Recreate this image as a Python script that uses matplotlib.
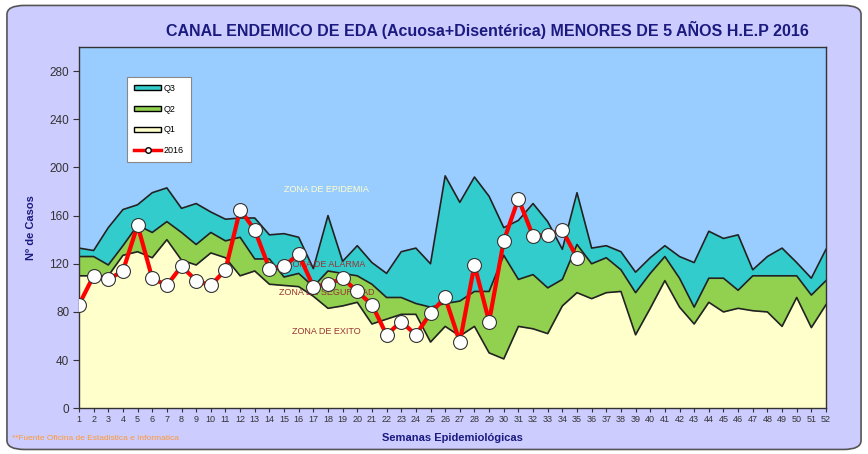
import numpy as np
import matplotlib.pyplot as plt
from matplotlib.patches import Patch, FancyBboxPatch
from matplotlib.lines import Line2D

plt.rcParams['font.family'] = ['Liberation Sans', 'DejaVu Sans']

weeks = list(range(1, 53))

q3 = [133, 131, 150, 165, 169, 179, 183, 166, 170, 163, 157, 158, 158, 144, 145, 142, 116, 160,
      122, 135, 121, 112, 130, 133, 120, 193, 171, 192, 176, 150, 156, 170, 155, 132, 179, 133,
      135, 130, 113, 125, 135, 126, 121, 147, 141, 144, 115, 126, 133, 121, 108, 132]
q2 = [126, 126, 119, 135, 152, 146, 155, 146, 136, 146, 139, 142, 124, 124, 109, 112, 101, 114,
      112, 110, 103, 92, 92, 87, 84, 87, 89, 97, 97, 127, 107, 111, 100, 107, 136, 120,
      125, 115, 96, 112, 126, 108, 84, 108, 108, 98, 110, 110, 110, 110, 94, 106]
q1 = [110, 110, 110, 127, 130, 125, 140, 123, 119, 129, 125, 110, 114, 103, 102, 101, 93, 83,
      85, 88, 70, 74, 78, 78, 55, 68, 60, 68, 46, 41, 68, 66, 62, 85, 96, 91,
      96, 97, 61, 83, 106, 84, 70, 88, 80, 83, 81, 80, 68, 92, 67, 86]
cases_2016 = [86, 110, 107, 114, 152, 108, 102, 118, 106, 102, 115, 165, 148, 116, 118, 128, 101, 103,
              108, 97, 86, 61, 72, 61, 79, 92, 55, 119, 72, 139, 174, 143, 144, 148, 125]
weeks_2016 = weeks[:len(cases_2016)]

zones = ["ZONA DE EPIDEMIA", "ZONA DE ALARMA", "ZONA DE SEGURIDAD", "ZONA DE EXITO"]
zone_pos = [(17.9, 182), (17.9, 119), (17.9, 96), (17.9, 64)]
zone_col = ["#FFFFCC", "#993333", "#993333", "#993333"]

c_bg = "#CCCCFF"
c_epi = "#99CCFF"
c_q3 = "#33CCCC"
c_q2 = "#92D050"
c_q1 = "#FFFFCC"
c_edge = "#222222"
c_navy = "#1A1A80"

fig = plt.figure(figsize=(8.68, 4.54), dpi=100)
fig.patch.set_facecolor("white")
fig.patches.append(FancyBboxPatch((0.008, 0.01), 0.984, 0.978, boxstyle="round,pad=0,rounding_size=0.02",
                                  transform=fig.transFigure, facecolor=c_bg, edgecolor="#555555",
                                  linewidth=1.2, zorder=-10))

ax = fig.add_axes([0.091, 0.1007, 0.8606, 0.7958])
ax.set_facecolor(c_epi)

for vals, col in [(q3, c_q3), (q2, c_q2), (q1, c_q1)]:
    ax.fill_between(weeks, 0, vals, color=col, linewidth=0)
    ax.plot(weeks, vals, color=c_edge, linewidth=1.2)

ax.plot(weeks_2016, cases_2016, color="red", linewidth=3, marker="o", markersize=10,
        markerfacecolor="white", markeredgecolor="#333333", markeredgewidth=0.8, zorder=5)

for txt, (x, y), col in zip(zones, zone_pos, zone_col):
    ax.text(x, y, txt, color=col, fontsize=6.5, ha="center", va="center", zorder=4)

ax.set_xlim(1, 52)
ax.set_ylim(0, 300)
ax.set_xticks(weeks)
ax.set_yticks(range(0, 281, 40))
ax.tick_params(axis="x", labelsize=6.5, colors="#333333", length=3, pad=2)
ax.tick_params(axis="y", labelsize=8.5, colors="#333333", length=4, pad=3)
for s in ax.spines.values():
    s.set_color("#333333")
    s.set_linewidth(1)

ax.set_ylabel("Nº de Casos", fontsize=8, fontweight="bold", color=c_navy, labelpad=10)
ax.set_xlabel("Semanas Epidemiológicas", fontsize=8, fontweight="bold", color=c_navy, labelpad=6)

handles = [Patch(facecolor=c_q3, edgecolor="black", label="Q3"),
           Patch(facecolor=c_q2, edgecolor="black", label="Q2"),
           Patch(facecolor=c_q1, edgecolor="black", label="Q1"),
           Line2D([], [], color="red", linewidth=2.5, marker="o", markersize=4,
                  markerfacecolor="white", markeredgecolor="black", label="2016")]
leg = ax.legend(handles=handles, loc="upper left", bbox_to_anchor=(0.058, 0.93), fontsize=6.5,
                frameon=True, fancybox=False, edgecolor="#888888", framealpha=1,
                handlelength=3, handleheight=0.5, labelspacing=1.3, borderpad=0.8, handletextpad=0.3)
leg.get_frame().set_linewidth(0.8)

fig.text(0.562, 0.935, "CANAL ENDEMICO DE EDA (Acuosa+Disentérica) MENORES DE 5 AÑOS H.E.P 2016",
         ha="center", va="center", fontsize=11.5, fontweight="bold", color=c_navy)
fig.text(0.014, 0.035, "**Fuente Oficina de Estadistica e Informatica", fontsize=6,
         color="#FF9933", ha="left", va="center")

fig.savefig("out.png", dpi=100, facecolor=fig.get_facecolor())
